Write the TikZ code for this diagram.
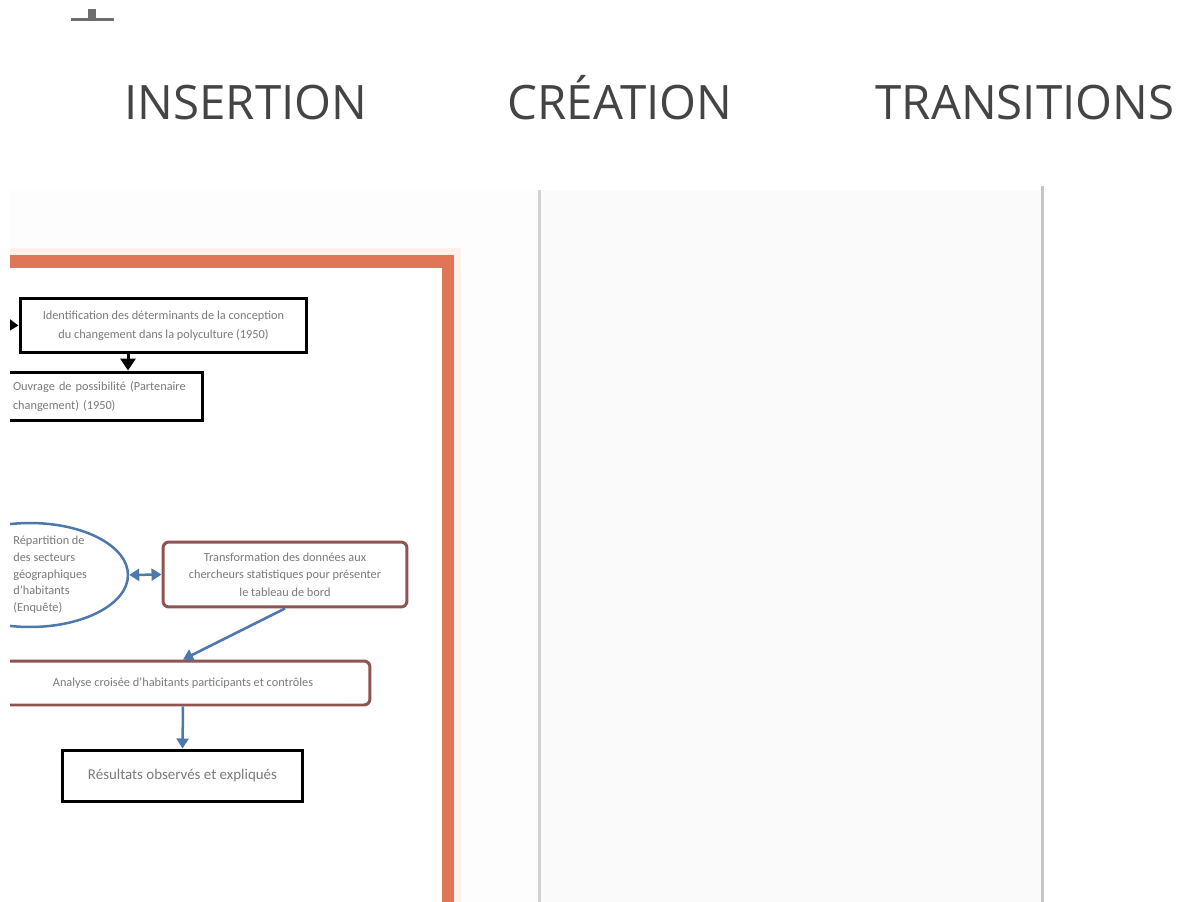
\documentclass[tikz,border=0pt]{standalone}
\usepackage{fontspec}
\setmainfont{Carlito}
\newfontfamily\tabfont{Open Sans}
\usetikzlibrary{
  arrows.meta,
  shapes.geometric
}
\definecolor{slideorange}{HTML}{E07558}
\definecolor{glow}{HTML}{FDF1EA}
\definecolor{boxred}{HTML}{8E5452}
\definecolor{linkblue}{HTML}{4D78AC}
\definecolor{tabgray}{HTML}{444444}
\definecolor{panegray}{HTML}{FAFAFA}
\definecolor{leftpane}{HTML}{FDFDFD}
\definecolor{linegray}{HTML}{D2D2D2}
\definecolor{icongray}{HTML}{6E6E6E}
\definecolor{txtgray}{HTML}{7A7A7A}
\tikzset{
  tab/.style = {anchor=base, text=tabgray, inner sep=0pt,
      font=\tabfont\fontsize{27}{30}\selectfont},
  blackbox/.style = {draw=black, line width=0.06cm, fill=white,
      text=txtgray, font=\fontsize{7}{11}\selectfont,
      align=center, inner sep=0pt},
  redbox/.style = {draw=boxred, line width=0.06cm, fill=white,
      rounded corners=0.12cm, text=txtgray,
      font=\fontsize{7}{10}\selectfont, align=center, inner sep=0pt},
  bubble/.style = {ellipse, draw=linkblue, line width=0.05cm,
      inner sep=0pt},
  bubbletext/.style = {anchor=west, text=txtgray,
      font=\fontsize{7}{9.5}\selectfont, align=left, inner sep=0pt},
  link/.style = {linkblue, line width=0.05cm,
      -{Triangle[length=0.2cm, width=0.24cm]}},
  blacklink/.style = {black, line width=0.06cm,
      -{Triangle[length=0.24cm, width=0.3cm]}},
  divider/.style = {linegray, line width=0.06cm},
}

\begin{document}
\begin{tikzpicture}[x=0.02cm, y=-0.02cm]
  \useasboundingbox (0,0) rectangle (1197,902);

  % ribbon
  \fill[icongray] (71,18) rectangle (114,21);
  \fill[icongray] (88,9) rectangle (96,19);
  \node[tab] (insertion) at (246,120) {INSERTION};
  \node[tab] (creation) at (620,120) {CRÉATION};
  \node[tab] (transitions) at (1025,120) {TRANSITIONS};

  % panes
  \fill[leftpane] (10,190) rectangle (538,902);
  \fill[panegray] (540,190) rectangle (1041,902);
  \draw[divider] (539,190) -- (539,902);
  \draw[divider, draw=gray!45] (1042,186) -- (1042,902);

  % slide
  \fill[glow] (10,248) rectangle (461,902);
  \fill[slideorange] (10,255) rectangle (454,902);
  \fill[white] (10,268) rectangle (442,902);

  \begin{scope}
    \clip (10,268) rectangle (442,902);

    \node[blackbox, minimum width=5.74cm, minimum height=1.1cm] (ident) at (163.5,325.5)
      {Identification des déterminants de la conception\\du changement dans la polyculture (1950)};
    \node[blackbox, text width=3.5cm, minimum height=0.98cm, inner xsep=0.3cm,
      align=left] (ouvrage) at (100.5,396.5)
      {Ouvrage de possibilité (Partenaire\\changement) (1950)};
    \coordinate (drop) at (128,0);
    \coordinate (entry) at (-30,323);

    \node[bubble, minimum width=3.92cm, minimum height=2.08cm] (enquete) at (30,575) {};
    \node[bubbletext] (enquetetxt) at (13,575)
      {Répartition de\\des secteurs\\géographiques\\d'habitants\\(Enquête)};
    \node[redbox, minimum width=4.88cm, minimum height=1.3cm] (transfo) at (285,574.5)
      {Transformation des données aux\\chercheurs statistiques pour présenter\\le tableau de bord};
    \node[redbox, minimum width=7.48cm, minimum height=0.88cm] (analyse) at (183,683)
      {Analyse croisée d'habitants participants et contrôles};
    \node[blackbox, minimum width=4.82cm, minimum height=1.02cm,
      font=\fontsize{8.5}{10}\selectfont] (resultats) at (182.5,775.5)
      {Résultats observés et expliqués};

    \draw[blacklink] (entry) -- (ident.west);
    \draw[blacklink] (ident.south -| drop) -- (ouvrage.north -| drop);
    \draw[link, {Triangle[length=0.2cm, width=0.24cm]}-{Triangle[length=0.2cm, width=0.24cm]}]
      (enquete.east) -- (transfo.west);
    \draw[link] (transfo.south) -- (analyse.north);
    \draw[link] (analyse.south) -- (resultats.north);
  \end{scope}
\end{tikzpicture}
\end{document}
